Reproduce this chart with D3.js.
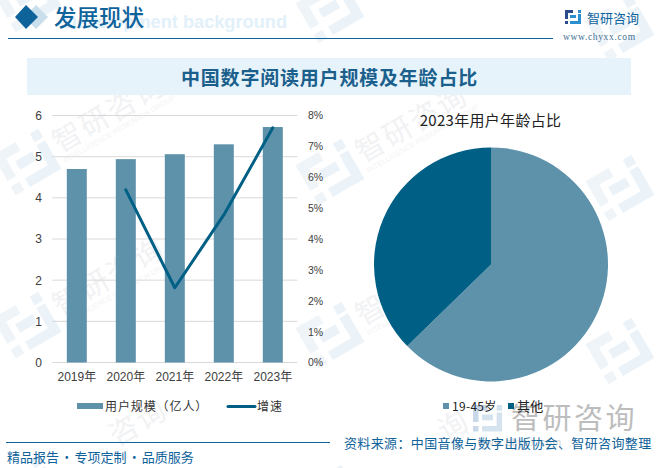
<!DOCTYPE html>
<html><head><meta charset="utf-8">
<script src="https://cdn.jsdelivr.net/npm/d3@7"></script>
<style>html,body{margin:0;padding:0;background:#fff}svg{display:block}text{font-family:"Liberation Sans","Noto Sans CJK SC",sans-serif}</style>
</head><body><svg id="c" width="657" height="468"></svg>
<script>
const years=["2019年","2020年","2021年","2022年","2023年"];
const users=[4.7,4.94,5.06,5.3,5.72];
const growth=[null,5.59,2.42,4.78,7.6];
const leftTicks=[0,1,2,3,4,5,6];
const rightTicks=[0,1,2,3,4,5,6,7,8];
const ageLabels=["19-45岁","其他"];
const ageShares=[62.7,37.3];
const barColor="#5e92ab",lineColor="#005f85",blue="#0f639b";
const cjk='"Noto Sans CJK SC",sans-serif';
const latin='"Liberation Sans","Noto Sans CJK SC",sans-serif';
const svg=d3.select("#c");

function logo(g,c1,c2){
  g.append("path").attr("d","M0,0H8V3H3V9H0ZM0,11H3V14H0Z").attr("fill",c1);
  g.append("path").attr("d","M5,5H11V8H5ZM13,4H16V14H5V11H13ZM13,0H16V3H13Z").attr("fill",c2);
}

// background watermark
const wm=svg.append("g");
const wmSpots=[[27,162,"智研咨询",33],[27,325,"智研咨询",33],[330,172,"智研咨询",33],[330,335,"智研咨询",33],[620,188,"",0],[620,351,"",0],[27,488,"咨询",98],[330,498,"询",128],[620,28,"",0],[330,10,"",0],[27,-1,"",0]];
wmSpots.forEach(([x,y,t,tx])=>{
  const g=wm.append("g").attr("transform",`translate(${x},${y}) rotate(-30)`);
  logo(g.append("g").attr("transform","scale(3.3) translate(-8,-7)"),"#eff4f8","#ebf3f9");
  if(t){
    g.append("text").attr("x",tx).attr("y",9).attr("font-size",29).attr("fill","#f1f2f4").attr("letter-spacing",2).style("font-family",cjk).text(t);
    if(y<400) g.append("text").attr("x",33).attr("y",20).attr("font-size",7.5).attr("fill","#f3f4f6").text("INTELLIGENCE RESEARCH GROUP");
  }
});

// header
svg.append("text").attr("x",287).attr("y",28).attr("text-anchor","end").attr("font-size",18.2).attr("font-weight",700).attr("fill","#e2f0fa").text("Development background");
svg.append("path").attr("d","M36,5L48,17L36,29L24,17Z").attr("fill","#c9dfec");
svg.append("path").attr("d","M26,5L38,17L26,29L15,17Z").attr("fill",blue);
svg.append("text").attr("x",54).attr("y",26).attr("font-size",22.5).attr("font-weight",500).attr("fill",blue).style("font-family",cjk).text("发展现状");
svg.append("line").attr("x1",8).attr("x2",553).attr("y1",38.5).attr("y2",38.5).attr("stroke",blue).attr("stroke-width",1.2);
logo(svg.append("g").attr("transform","translate(565,10)"),"#2a4a8c","#2a8fd0");
svg.append("text").attr("x",587).attr("y",23).attr("font-size",13).attr("fill",blue).style("font-family",cjk).text("智研咨询");
svg.append("text").attr("x",563).attr("y",40).attr("font-size",9.5).attr("fill","#3f6f92").attr("letter-spacing",.65).style("font-family",'"Liberation Serif",serif').text("www.chyxx.com");

// title band
svg.append("rect").attr("x",27).attr("y",58).attr("width",604).attr("height",37).attr("fill","#e6f3fb");
svg.append("text").attr("x",329.5).attr("y",85).attr("text-anchor","middle").attr("font-size",19).attr("font-weight",700).attr("letter-spacing",.8).attr("fill","#1b5f8c").style("font-family",cjk).text("中国数字阅读用户规模及年龄占比");

// combo chart
const x=d3.scaleBand().domain(years).range([52.3,297.3]).paddingInner(.592).paddingOuter(.296);
const yL=d3.scaleLinear().domain([0,6]).range([362.5,115.5]);
const yR=d3.scaleLinear().domain([0,8]).range([362.5,115.5]);
svg.append("g").selectAll("line").data(leftTicks).join("line").attr("x1",52.3).attr("x2",297.3)
  .attr("y1",d=>yL(d)).attr("y2",d=>yL(d)).attr("stroke","#d9d9d9").attr("stroke-width",1);
const axL=svg.append("g").attr("transform","translate(52,0)").call(d3.axisLeft(yL).tickValues(leftTicks).tickSize(0).tickPadding(10).tickFormat(d3.format("d")));
const axR=svg.append("g").attr("transform","translate(297,0)").call(d3.axisRight(yR).tickValues(rightTicks).tickSize(0).tickPadding(11).tickFormat(d=>d+"%"));
const axB=svg.append("g").attr("transform","translate(0,362.5)").call(d3.axisBottom(x).tickSize(0).tickPadding(10));
[axL,axB].forEach(a=>{a.select(".domain").remove();a.selectAll("text").attr("font-size",12).attr("fill","#404040").style("font-family",latin);});
axR.select(".domain").remove();axR.selectAll("text").attr("font-size",10.5).attr("fill","#404040").style("font-family",latin);
svg.append("g").selectAll("rect").data(years).join("rect")
  .attr("x",d=>x(d)).attr("width",x.bandwidth())
  .attr("y",(d,i)=>yL(users[i])).attr("height",(d,i)=>yL(0)-yL(users[i])).attr("fill",barColor);
const ln=d3.line().defined(d=>d[1]!=null).x(d=>x(d[0])+x.bandwidth()/2).y(d=>yR(d[1]));
svg.append("path").datum(years.map((d,i)=>[d,growth[i]])).attr("d",ln).attr("fill","none").attr("stroke",lineColor).attr("stroke-width",3).attr("stroke-linecap","round").attr("stroke-linejoin","round");

// left legend
svg.append("rect").attr("x",77).attr("y",403).attr("width",26).attr("height",6).attr("fill",barColor);
svg.append("text").attr("x",105).attr("y",411).attr("font-size",12).attr("fill","#333").attr("letter-spacing",.9).style("font-family",cjk).text("用户规模（亿人）");
svg.append("line").attr("x1",228).attr("x2",255).attr("y1",406.5).attr("y2",406.5).attr("stroke",lineColor).attr("stroke-width",3).attr("stroke-linecap","round");
svg.append("text").attr("x",257).attr("y",411).attr("font-size",12).attr("fill","#333").attr("letter-spacing",.9).style("font-family",cjk).text("增速");

// pie
svg.append("text").attr("x",490.5).attr("y",126).attr("text-anchor","middle").attr("font-size",15).attr("letter-spacing",.3).attr("fill","#222").style("font-family",cjk).text("2023年用户年龄占比");
const pie=d3.pie().sort(null)(ageShares);
const arc=d3.arc().innerRadius(0).outerRadius(117);
svg.append("g").attr("transform","translate(491,264.4)").selectAll("path").data(pie).join("path").attr("d",arc).attr("fill",(d,i)=>[barColor,lineColor][i]);

// lower-right watermark logo
svg.append("text").attr("x",511).attr("y",429).attr("font-size",29).attr("fill","#bdbdbd").attr("letter-spacing",2.5).style("font-family",cjk).text("智研咨询");
logo(svg.append("g").attr("transform","translate(473,405) scale(1.82,1.9)"),"#c9d9ea","#d5e3ef");
svg.append("text").attr("x",478).attr("y",446).attr("font-size",10).attr("fill","#cfcfcf").attr("letter-spacing",1).text("www.chyxx.com");

// pie legend
const legX=[443,508],legSize=[12,13];
ageLabels.forEach((t,i)=>{
  svg.append("rect").attr("x",legX[i]).attr("y",403).attr("width",6).attr("height",6).attr("fill",[barColor,lineColor][i]);
  svg.append("text").attr("x",legX[i]+9).attr("y",411).attr("font-size",legSize[i]).attr("fill","#222").attr("letter-spacing",.3).style("font-family",cjk).text(t);
});

// footer
svg.append("line").attr("x1",6).attr("x2",330).attr("y1",442.5).attr("y2",442.5).attr("stroke",blue).attr("stroke-width",1);
svg.append("text").attr("x",7).attr("y",462).attr("font-size",13).attr("word-spacing",-1.7).attr("fill",blue).style("font-family",cjk).text("精品报告 · 专项定制 · 品质服务");
svg.append("text").attr("x",344).attr("y",448).attr("font-size",13).attr("fill",blue).attr("letter-spacing",.37).style("font-family",cjk).text("资料来源：中国音像与数字出版协会、智研咨询整理");
</script></body></html>
